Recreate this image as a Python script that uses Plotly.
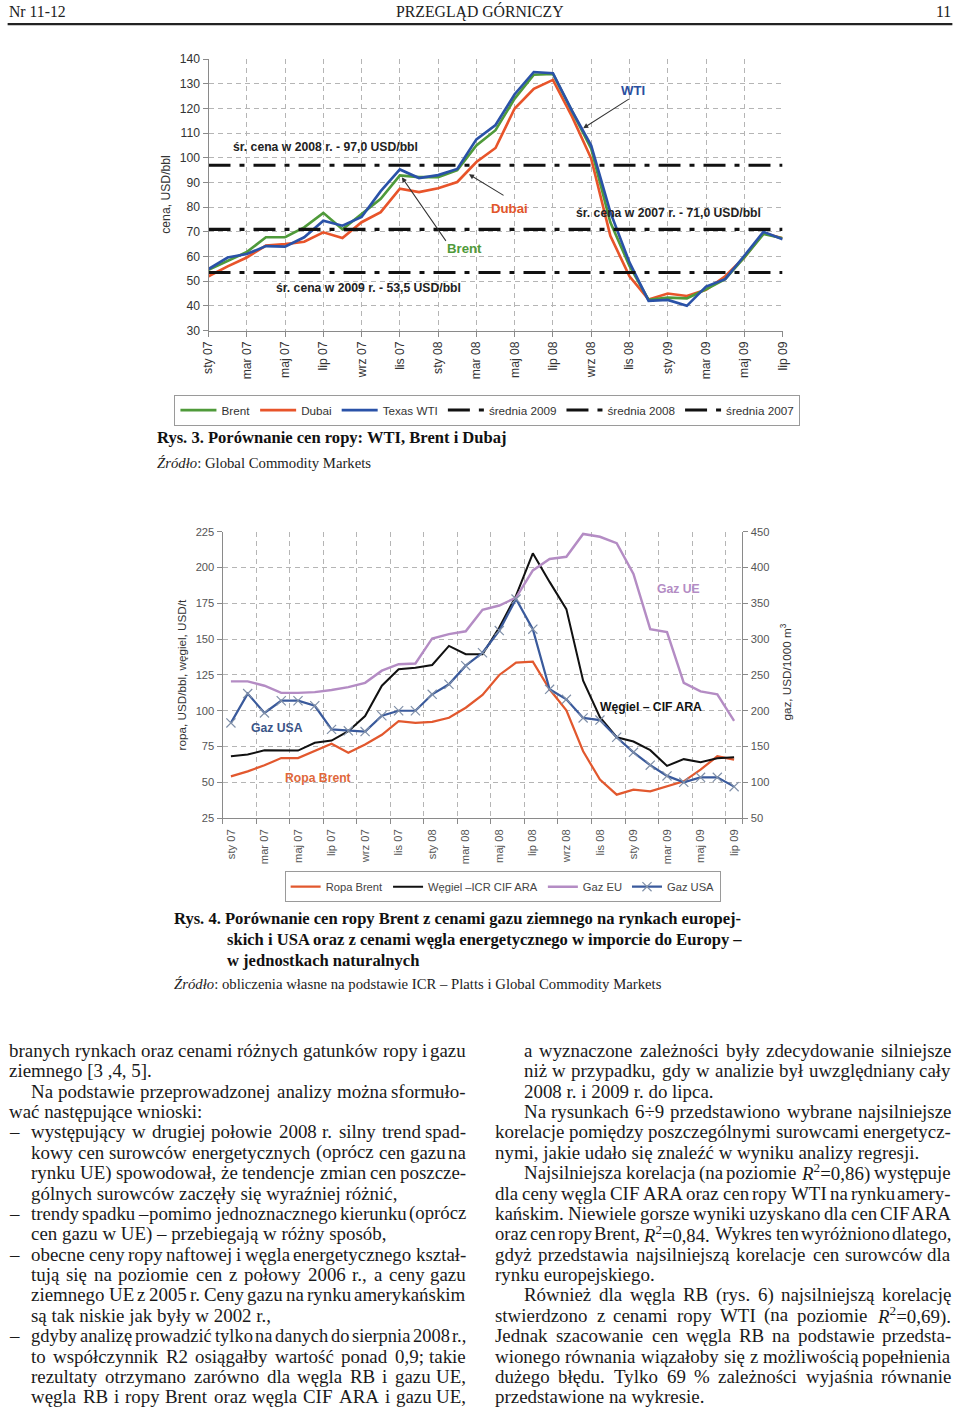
import plotly.graph_objects as go

# ---------------- data ----------------
months = ["sty 07", "lut 07", "mar 07", "kwi 07", "maj 07", "cze 07", "lip 07", "sie 07",
          "wrz 07", "paź 07", "lis 07", "gru 07", "sty 08", "lut 08", "mar 08", "kwi 08",
          "maj 08", "cze 08", "lip 08", "sie 08", "wrz 08", "paź 08", "lis 08", "gru 08",
          "sty 09", "lut 09", "mar 09", "kwi 09", "maj 09", "cze 09", "lip 09"]
tick_months = months[::2]

# Fig. 3 - oil prices, USD/bbl
brent = [54.6, 58.2, 61.8, 67.8, 67.8, 71.8, 77.7, 71.0, 77.3, 83.4, 92.9, 92.2, 92.2, 95.0, 105.0, 111.2,
         124.0, 133.7, 134.0, 118.7, 103.7, 73.9, 56.2, 42.4, 43.3, 43.0, 46.7, 50.8, 59.6, 69.1, 67.4]
dubai = [52.0, 56.0, 59.6, 64.4, 65.0, 66.0, 69.8, 67.5, 73.9, 78.0, 87.5, 86.1, 87.7, 90.2, 98.3, 104.0,
         120.0, 128.0, 131.6, 116.7, 99.7, 68.4, 52.0, 42.6, 45.0, 44.0, 46.5, 52.0, 59.6, 69.5, 67.4]
wti = [54.9, 59.6, 61.0, 64.2, 64.0, 67.8, 74.5, 72.5, 76.0, 86.5, 95.3, 91.8, 93.0, 95.5, 107.5, 113.3,
       125.8, 134.8, 134.3, 119.0, 105.0, 78.0, 57.6, 42.0, 42.4, 40.0, 47.8, 50.8, 60.3, 70.0, 67.0]
avg_names = ["średnia 2009", "średnia 2008", "średnia 2007"]
avg_values = [53.5, 97.0, 71.0]

# Fig. 4 - Brent (USD/bbl), coal CIF ARA (USD/t), gas EU / USA (USD/1000 m3)
brent2 = [54.2, 57.7, 61.9, 67.0, 67.0, 71.7, 76.9, 70.6, 76.4, 83.2, 92.8, 91.6, 92.3, 95.1, 102.1, 111.0,
          125.0, 133.6, 134.3, 115.0, 100.3, 71.7, 51.9, 41.4, 44.9, 43.7, 47.2, 50.7, 58.9, 68.2, 65.9]
coal = [68.2, 69.4, 72.4, 72.2, 72.2, 77.6, 79.2, 85.7, 96.3, 117.5, 129.0, 130.0, 132.0, 145.3, 139.5, 139.5,
        158.2, 180.4, 210.0, 190.0, 171.0, 121.0, 95.5, 81.5, 78.5, 72.5, 61.5, 66.2, 64.0, 66.8, 67.5]
gas_eu = [241, 241, 235, 225, 225, 226, 229, 233, 239, 256, 265, 266, 301, 307, 311, 341,
          347, 358, 396, 412, 415, 447, 443, 434, 391, 314, 310, 239, 227, 223, 186]
gas_usa = [183, 224, 197, 214, 214, 207, 174, 172, 171, 193, 200, 200, 223, 237, 263, 281,
           312, 356, 314, 230, 216, 190, 187, 163, 142, 124, 109, 100, 107, 107, 94]

# ---------------- text ----------------
LEFT_COL = [
    ("branych rynkach oraz cenami różnych gatunków ropy i gazu", 0, True, False),
    ("ziemnego [3 ,4, 5].", 0, False, False),
    ("Na podstawie przeprowadzonej analizy można sformuło-", 1, True, False),
    ("wać następujące wnioski:", 0, False, False),
    ("występujący w drugiej połowie 2008 r. silny trend spad-", 1, True, True),
    ("kowy cen surowców energetycznych (oprócz cen gazu na", 1, True, False),
    ("rynku UE) spowodował, że tendencje zmian cen poszcze-", 1, True, False),
    ("gólnych surowców zaczęły się wyraźniej różnić,", 1, False, False),
    ("trendy spadku – pomimo jednoznacznego kierunku (oprócz", 1, True, True),
    ("cen gazu w UE) – przebiegają w różny sposób,", 1, False, False),
    ("obecne ceny ropy naftowej i węgla energetycznego kształ-", 1, True, True),
    ("tują się na poziomie cen z połowy 2006 r., a ceny gazu", 1, True, False),
    ("ziemnego UE z 2005 r. Ceny gazu na rynku amerykańskim", 1, True, False),
    ("są tak niskie jak były w 2002 r.,", 1, False, False),
    ("gdyby analizę prowadzić tylko na danych do sierpnia 2008 r.,", 1, True, True),
    ("to współczynnik R2 osiągałby wartość ponad 0,9; takie", 1, True, False),
    ("rezultaty otrzymano zarówno dla węgla RB i gazu UE,", 1, True, False),
    ("węgla RB i ropy Brent oraz węgla CIF ARA i gazu UE,", 1, True, False),
]
RIGHT_COL = [
    ("a wyznaczone zależności były zdecydowanie silniejsze", 1, True, False),
    ("niż w przypadku, gdy w analizie był uwzględniany cały", 1, True, False),
    ("2008 r. i 2009 r. do lipca.", 1, False, False),
    ("Na rysunkach 6÷9 przedstawiono wybrane najsilniejsze", 1, True, False),
    ("korelacje pomiędzy poszczególnymi surowcami energetycz-", 0, True, False),
    ("nymi, jakie udało się znaleźć w wyniku analizy regresji.", 0, False, False),
    ("Najsilniejsza korelacja (na poziomie R²=0,86) występuje", 1, True, False),
    ("dla ceny węgla CIF ARA oraz cen ropy WTI na rynku amery-", 0, True, False),
    ("kańskim. Niewiele gorsze wyniki uzyskano dla cen CIF ARA", 0, True, False),
    ("oraz cen ropy Brent, R²=0,84. Wykres ten wyróżniono dlatego,", 0, True, False),
    ("gdyż przedstawia najsilniejszą korelacje cen surowców dla", 0, True, False),
    ("rynku europejskiego.", 0, False, False),
    ("Również dla węgla RB (rys. 6) najsilniejszą korelację", 1, True, False),
    ("stwierdzono z cenami ropy WTI (na poziomie R²=0,69).", 0, True, False),
    ("Jednak szacowanie cen węgla RB na podstawie przedsta-", 0, True, False),
    ("wionego równania wiązałoby się z możliwością popełnienia", 0, True, False),
    ("dużego błędu. Tylko 69 % zależności wyjaśnia równanie", 0, True, False),
    ("przedstawione na wykresie.", 0, False, False),
]

# ---------------- helpers ----------------
# Observed photo geometry: the figure appears offset by 8 px and scaled by
# 960/976 (x) and 1410/1426 (y).  Target positions below are given in the
# final picture's pixels and converted back to figure pixels.
W, H = 960, 1410
SX, SY = 960 / 976.0, 1410 / 1426.0
OFF = 8
FS = 1 / SX


def X(t):
    return (t / SX - OFF) / W


def Y(t):
    return 1 - (t / SY - OFF) / H


def F(size):
    return size * FS


TW = {' ': 250, 'a': 444, 'b': 500, 'c': 444, 'd': 500, 'e': 444, 'f': 333, 'g': 500, 'h': 500,
      'i': 278, 'j': 278, 'k': 500, 'l': 278, 'm': 778, 'n': 500, 'o': 500, 'p': 500, 'q': 500,
      'r': 333, 's': 389, 't': 278, 'u': 500, 'v': 500, 'w': 722, 'x': 500, 'y': 500, 'z': 444,
      'A': 722, 'B': 667, 'C': 667, 'D': 722, 'E': 611, 'F': 556, 'G': 722, 'H': 722, 'I': 333,
      'J': 389, 'K': 722, 'L': 611, 'M': 889, 'N': 722, 'O': 722, 'P': 556, 'Q': 722, 'R': 667,
      'S': 556, 'T': 611, 'U': 722, 'V': 722, 'W': 944, 'X': 722, 'Y': 722, 'Z': 611,
      ',': 250, '.': 250, '(': 333, ')': 333, '-': 333, '–': 500, '[': 333, ']': 333, ';': 278,
      ':': 278, '%': 833, '=': 564, '÷': 564, '²': 450}
BASE = str.maketrans("ąćęłńóśźżĄĆĘŁŃÓŚŹŻ", "acelnoszzACELNOSZZ")
WFACT = 1.03


def text_w(s, fs):
    s = s.translate(BASE)
    return sum(TW.get(ch, 500) for ch in s) * fs / 1000.0 * WFACT


def render(w):
    return w.replace("R²", "<i>R</i><sup>2</sup>")


BODY_SIZE = 18.6
annotations = []


def body_font(size):
    return dict(family="Liberation Serif", size=F(size), color="#1a1a1a")


def add_text(txt, x, y, font, xanchor="left", angle=0):
    annotations.append(dict(text=txt, x=X(x), y=Y(y), xref="paper", yref="paper", showarrow=False,
                            xanchor=xanchor, yanchor="middle", font=font, textangle=angle,
                            borderpad=0))


def place_column(lines, x0, xind, x1, y0, step, dash_x):
    for k, (line, ind, just, bullet) in enumerate(lines):
        y = y0 + k * step
        start = xind if ind else x0
        fs = BODY_SIZE
        if bullet:
            add_text("–", dash_x, y, body_font(fs))
        if not just:
            add_text(render(line), start, y, body_font(fs))
            continue
        words = line.split(" ")
        n = len(words)
        tot = sum(text_w(w, fs) for w in words)
        if x1 - start - tot < 2.0 * (n - 1):
            fs = fs * (x1 - start - 2.0 * (n - 1)) / tot
        widths = [text_w(w, fs) for w in words]
        gap = (x1 - start - sum(widths)) / (n - 1)
        xx = start
        for i, w in enumerate(words):
            if i == n - 1:
                add_text(render(w), x1, y, body_font(fs), xanchor="right")
            else:
                add_text(render(w), xx, y, body_font(fs))
            xx += widths[i] + gap


place_column(LEFT_COL, 8.5, 31, 467, 1050, 20.35, 8.5)
place_column(RIGHT_COL, 494, 523, 951.5, 1050, 20.35, 496)

# header
HDR = dict(family="Liberation Serif", size=F(15.5), color="#222")
add_text("Nr 11-12", 8.5, 12.5, HDR)
add_text("PRZEGLĄD GÓRNICZY", 480, 12.5, HDR, xanchor="center")
add_text("11", 951.5, 12.5, HDR, xanchor="right")

# captions
CAP = dict(family="Liberation Serif", size=F(16.3), color="#111")
SRC = dict(family="Liberation Serif", size=F(14.5), color="#222")
add_text("<b>Rys. 3. Porównanie cen ropy: WTI, Brent i Dubaj</b>", 157, 438, CAP)
add_text("<i>Źródło</i>: Global Commodity Markets", 157, 463, SRC)
add_text("<b>Rys. 4. Porównanie cen ropy Brent z cenami gazu ziemnego na rynkach europej-</b>", 174, 918, CAP)
add_text("<b>skich i USA oraz z cenami węgla energetycznego w imporcie do Europy –</b>", 226, 939, CAP)
add_text("<b>w jednostkach naturalnych</b>", 226, 960, CAP)
add_text("<i>Źródło</i>: obliczenia własne na podstawie ICR – Platts i Global Commodity Markets", 174, 984, SRC)

# chart labels
LAB = dict(family="Liberation Sans", size=F(12), color="#222")
add_text("<b>śr. cena w 2008 r. - 97,0 USD/bbl</b>", 326, 148, LAB, xanchor="center")
add_text("<b>śr. cena w 2009 r. - 53,5 USD/bbl</b>", 369, 289, LAB, xanchor="center")
add_text("<b>śr. cena w 2007 r. - 71,0 USD/bbl</b>", 668, 214, LAB, xanchor="center")
add_text("<b>WTI</b>", 633, 91, dict(family="Liberation Sans", size=F(13), color="#2b4fa0"), xanchor="center")
add_text("<b>Dubai</b>", 509, 209, dict(family="Liberation Sans", size=F(13), color="#e2562b"), xanchor="center")
add_text("<b>Brent</b>", 465, 249, dict(family="Liberation Sans", size=F(13), color="#4f9a3a"), xanchor="center")
add_text("<b>Gaz UE</b>", 678, 589, dict(family="Liberation Sans", size=F(12), color="#b48cc4"), xanchor="center")
add_text("<b>Gaz USA</b>", 277, 728, dict(family="Liberation Sans", size=F(12), color="#3b5588"), xanchor="center")
add_text("<b>Ropa Brent</b>", 318, 778, dict(family="Liberation Sans", size=F(12), color="#e0673a"), xanchor="center")
add_text("<b>Węgiel – CIF ARA</b>", 651, 707, dict(family="Liberation Sans", size=F(12), color="#111"), xanchor="center")

# axis titles
add_text("cena, USD/bbl", 167, 195, dict(family="Liberation Sans", size=F(12), color="#333"),
         xanchor="center", angle=-90)
add_text("ropa, USD/bbl, węgiel, USD/t", 183, 675, dict(family="Liberation Sans", size=F(11.5), color="#333"),
         xanchor="center", angle=-90)
add_text("gaz, USD/1000 m<sup>3</sup>", 785, 672, dict(family="Liberation Sans", size=F(11.5), color="#333"),
         xanchor="center", angle=-90)


# arrows (chart 1, data coordinates)
def px2d(px, py):
    return (px - 209) / (573 / 30), 30 + (331 - py) / (271 / 110)


for (tx, ty), (hx, hy) in [((630, 99), (583, 129)), ((505, 197), (469, 175)), ((447, 243), (402, 178))]:
    a = px2d(tx, ty)
    b = px2d(hx, hy)
    annotations.append(dict(text="", x=b[0], y=b[1], xref="x", yref="y", ax=a[0], ay=a[1],
                            axref="x", ayref="y", showarrow=True, arrowhead=2, arrowsize=1,
                            arrowwidth=F(1), arrowcolor="#333"))

# ---------------- traces ----------------
fig = go.Figure()
xi = list(range(len(months)))
for name, vals, col, rank in [("Dubai", dubai, "#e8542a", 2), ("Brent", brent, "#4f9a3a", 1),
                              ("Texas WTI", wti, "#2a52a8", 3)]:
    fig.add_trace(go.Scatter(x=xi, y=vals, mode="lines", name=name, legendrank=rank,
                             line=dict(color=col, width=F(2.6)), xaxis="x", yaxis="y", legend="legend"))
for k, (name, v) in enumerate(zip(avg_names, avg_values)):
    fig.add_trace(go.Scatter(x=[xi[0], xi[-1]], y=[v, v], mode="lines", name=name, legendrank=4 + k,
                             line=dict(color="#111", width=F(3), dash="22px,9px,5px,9px"),
                             xaxis="x", yaxis="y", legend="legend"))

fig.add_trace(go.Scatter(x=xi, y=brent2, mode="lines", name="Ropa Brent", legendrank=1,
                         line=dict(color="#e2582e", width=F(2.2)), xaxis="x2", yaxis="y2", legend="legend2"))
fig.add_trace(go.Scatter(x=xi, y=coal, mode="lines", name="Węgiel –ICR CIF ARA", legendrank=2,
                         line=dict(color="#111", width=F(2)), xaxis="x2", yaxis="y2", legend="legend2"))
fig.add_trace(go.Scatter(x=xi, y=gas_eu, mode="lines", name="Gaz EU", legendrank=3,
                         line=dict(color="#b48cc4", width=F(2.4)), xaxis="x2", yaxis="y3", legend="legend2"))
fig.add_trace(go.Scatter(x=xi, y=gas_usa, mode="lines+markers", name="Gaz USA", legendrank=4,
                         line=dict(color="#3a5a9c", width=F(2.2)),
                         marker=dict(symbol="x-thin", size=F(9), line=dict(color="#8090a8", width=1.2)),
                         xaxis="x2", yaxis="y3", legend="legend2"))
fig.add_trace(go.Scatter(x=[0], y=[None], xaxis="x3", yaxis="y2", showlegend=False, hoverinfo="skip"))

GRID = dict(showgrid=True, gridcolor="#b5b5b5", gridwidth=1, griddash="5px,4px", zeroline=False,
            showline=True, linecolor="#8a8a8a", linewidth=1, ticks="outside", ticklen=5,
            tickcolor="#8a8a8a")
TF1 = dict(family="Liberation Sans", size=F(12), color="#333")
TF2 = dict(family="Liberation Sans", size=F(11), color="#555")

fig.update_layout(
    width=W, height=H, autosize=False, margin=dict(l=0, r=0, t=0, b=0),
    paper_bgcolor="white", plot_bgcolor="white", showlegend=True,
    xaxis=dict(GRID, domain=[X(209), X(782)], anchor="y", range=[0, 30],
               tickvals=xi[::2], ticktext=tick_months, tickangle=-90, tickfont=TF1),
    yaxis=dict(GRID, domain=[Y(331), Y(60)], anchor="x", range=[30, 140], dtick=10, tickfont=TF1),
    xaxis2=dict(GRID, domain=[X(223), X(742)], anchor="y2", range=[-0.5, 30.5],
                tickvals=[v - 0.5 for v in xi[::2]] + [30.5], ticktext=[" "] * 17,
                tickangle=-90, tickfont=TF2),
    xaxis3=dict(domain=[X(223), X(742)], anchor="y2", overlaying="x2", range=[-0.5, 30.5],
                tickvals=xi[::2], ticktext=tick_months, tickangle=-90, tickfont=TF2,
                showgrid=False, showline=False, ticks="", zeroline=False, ticklabelstandoff=8),
    yaxis2=dict(GRID, domain=[Y(818), Y(532)], anchor="x2", range=[25, 225], dtick=25, tickfont=TF2),
    yaxis3=dict(overlaying="y2", side="right", anchor="x2", range=[50, 450], dtick=50, tickfont=TF2,
                showgrid=False, zeroline=False, showline=True, linecolor="#8a8a8a", ticks="outside",
                ticklen=5, tickcolor="#8a8a8a"),
    legend=dict(orientation="h", x=X(175), y=Y(395), xanchor="left", yanchor="top",
                bordercolor="#9a9a9a", borderwidth=1,
                font=dict(family="Liberation Sans", size=F(11.5), color="#333"),
                itemwidth=36, tracegroupgap=0),
    legend2=dict(orientation="h", x=X(285), y=Y(871), xanchor="left", yanchor="top",
                 bordercolor="#9a9a9a", borderwidth=1,
                 font=dict(family="Liberation Sans", size=F(11), color="#444"),
                 itemwidth=30),
    annotations=annotations,
    shapes=[dict(type="line", xref="paper", yref="paper", x0=X(8.5), x1=X(951.5), y0=Y(25), y1=Y(25),
                 line=dict(color="#222", width=F(2)))],
)

fig.write_html(
    "out.html",
    config={"displayModeBar": False},
    post_script="document.body.style.margin='0px';",
)
